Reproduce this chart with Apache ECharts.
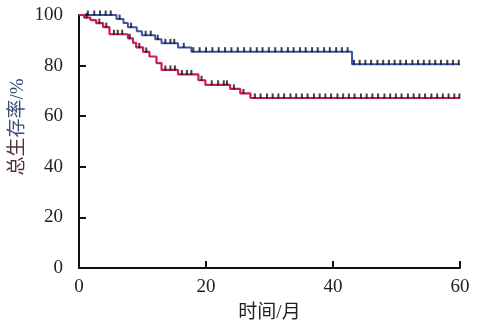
<!DOCTYPE html>
<html><head><meta charset="utf-8">
<script src="https://cdn.jsdelivr.net/npm/echarts@6/dist/echarts.min.js"></script>
<style>html,body{margin:0;padding:0;background:#fff}#c{width:494px;height:323px}</style>
</head><body><div id="c"></div>
<script>
// Kaplan-Meier step points [month, survival %]
var blueSteps = [[0,100],[5.9,98.4],[7.0,96.8],[7.7,95.2],[9.1,93.6],[9.9,92.0],[12.0,90.4],[13.0,88.8],[15.6,87.2],[17.7,85.5],[43.0,80.5],[60,80.5]];
var redSteps = [[0,100],[0.8,99.0],[1.8,98.0],[2.7,96.8],[3.8,95.2],[4.8,92.4],[7.7,90.8],[8.5,89.0],[9.0,87.2],[10.1,85.4],[11.1,83.6],[12.2,81.0],[13.0,78.3],[15.6,76.5],[18.8,74.2],[19.9,72.4],[23.8,70.8],[25.4,69.0],[27.0,67.2],[60,67.2]];
// censoring times (months)
var blueCensor = [1.4,2.4,3.3,4.2,5.0,6.4,8.2,10.5,11.3,12.4,13.6,14.4,15.0,16.5,
  18.0,19.0,20.0,21.0,22.0,23.0,24.0,25.0,26.0,27.0,28.0,28.9,29.9,30.9,31.9,32.9,33.8,34.8,35.7,36.7,37.6,38.6,39.5,40.5,41.4,42.3,
  43.3,44.2,45.1,46.0,47.0,47.9,48.8,49.7,50.6,51.5,52.5,53.4,54.3,55.2,56.1,57.0,58.0,58.9,59.8];
var redCensor = [1.2,3.2,4.3,5.5,6.1,6.8,8.0,9.5,10.6,13.6,14.4,15.1,16.2,17.0,17.7,19.3,20.9,21.9,22.8,23.3,24.4,25.9,
  27.7,28.6,29.6,30.5,31.4,32.3,33.3,34.2,35.1,36.0,37.0,37.9,38.8,39.7,40.7,41.6,42.5,43.4,44.4,45.3,46.2,47.1,48.1,49.0,49.9,50.8,51.8,52.7,53.6,54.5,55.5,56.4,57.3,58.2,59.1,59.9];
var xTicks = [0,20,40,60];
var yTicks = [0,20,40,60,80,100];

function lookup(steps, t){ var v = steps[0][1]; for (var i=0;i<steps.length;i++){ if (steps[i][0] <= t) v = steps[i][1]; } return v; }
function marks(steps, times){ return times.map(function(t){ return [t, lookup(steps,t)]; }); }

var serif = '"Liberation Serif","Times New Roman","Noto Sans CJK SC",serif';
var chart = echarts.init(document.getElementById('c'), null, {renderer:'canvas'});
chart.setOption({
  animation:false,
  grid:{left:79,right:34,top:15,bottom:55,containLabel:false,outerBoundsMode:'none'},
  xAxis:{type:'value',min:xTicks[0],max:xTicks[xTicks.length-1],interval:20,
    name:'时间/月',nameLocation:'middle',nameGap:36,
    nameTextStyle:{fontFamily:serif,fontSize:19,color:'#222'},
    axisLine:{lineStyle:{color:'#111',width:2}},
    axisTick:{inside:true,length:7,lineStyle:{color:'#111',width:2}},
    axisLabel:{fontFamily:serif,fontSize:19,color:'#222',margin:10},
    splitLine:{show:false}},
  yAxis:{type:'value',min:yTicks[0],max:yTicks[yTicks.length-1],interval:20,
    axisLine:{show:true,lineStyle:{color:'#111',width:2}},
    axisTick:{show:true,inside:true,length:7,lineStyle:{color:'#111',width:2}},
    axisLabel:{fontFamily:serif,fontSize:19,color:'#222',margin:16},
    splitLine:{show:false}},
  graphic:[{type:'text',x:18,y:127,rotation:Math.PI/2,
    style:{text:'{a|总生}{b|存率/%}',textAlign:'center',textVerticalAlign:'middle',
      rich:{a:{fontFamily:serif,fontSize:19,fill:'#4a3434'},b:{fontFamily:serif,fontSize:19,fill:'#3c4a78'}}}}],
  series:[
    {type:'line',data:blueSteps,step:'end',showSymbol:false,lineStyle:{color:'#3e50a8',width:2},z:2},
    {type:'line',data:redSteps,step:'end',showSymbol:false,lineStyle:{color:'#c81c5c',width:2.2},z:2},
    {type:'scatter',data:marks(blueSteps,blueCensor),symbol:'rect',symbolSize:[2,5],symbolOffset:[0,-2],itemStyle:{color:'#111'},z:3},
    {type:'scatter',data:marks(redSteps,redCensor),symbol:'rect',symbolSize:[2,5],symbolOffset:[0,-2],itemStyle:{color:'#111'},z:3}
  ]
});
</script></body></html>
